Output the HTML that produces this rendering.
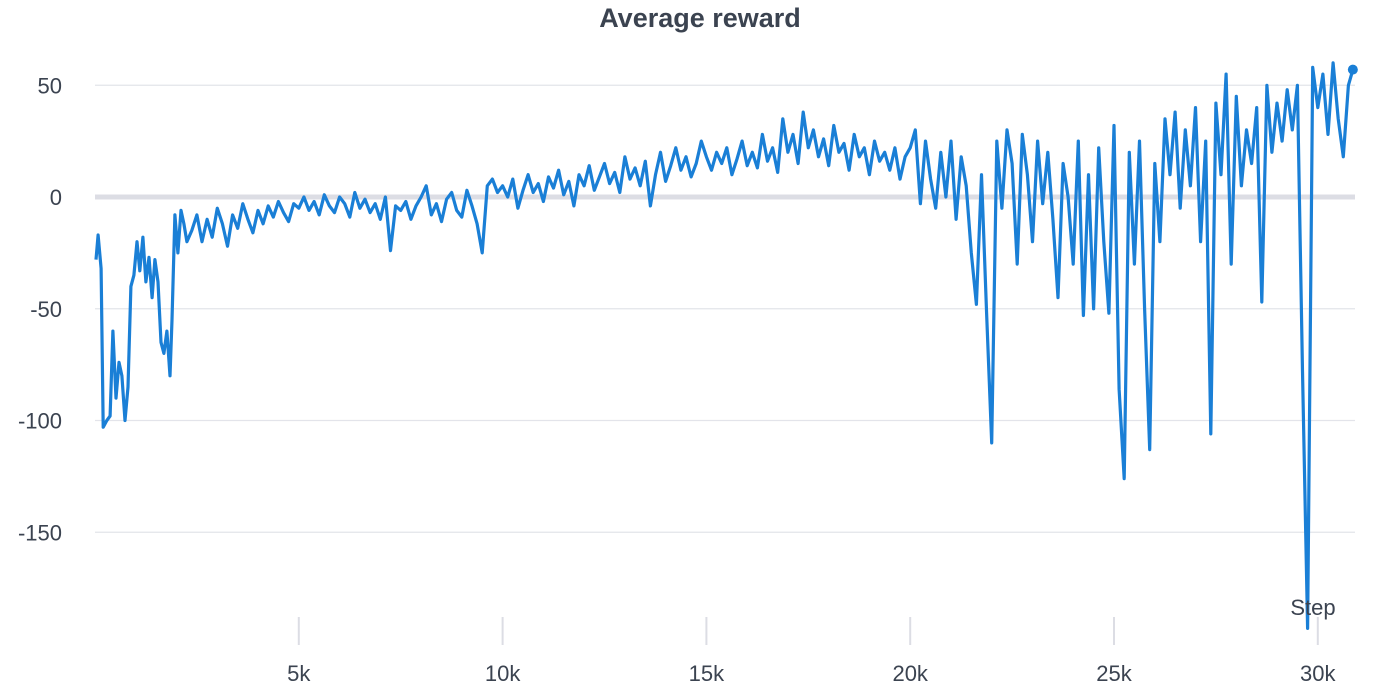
<!DOCTYPE html>
<html><head><meta charset="utf-8"><style>
body{margin:0;background:#fff;}
svg{display:block;font-family:"Liberation Sans",sans-serif;}
</style></head><body>
<svg id="chart" width="1400" height="700" viewBox="0 0 1400 700">
<text x="700" y="27" text-anchor="middle" font-size="27" font-weight="bold" fill="#3b4350">Average reward</text>
<g id="grid"></g><g id="xaxis"></g><g id="series"></g>
<text x="1313" y="615" text-anchor="middle" font-size="22" fill="#3b4350">Step</text>
</svg>
<script>
const yTicks=[50,0,-50,-100,-150];
const xTicks=[5000,10000,15000,20000,25000,30000];
const xTickLabels=["5k","10k","15k","20k","25k","30k"];
const steps=[25,75,150,200,290,370,440,515,590,660,735,810,880,955,1030,1100,1175,1250,1325,1400,1470,1545,1620,1690,1765,1840,1890,1960,2035,2110,2180,2255,
2375,2500,2625,2750,2875,3000,3125,3250,3375,3500,3625,3750,3875,4000,4125,4250,4375,4500,4625,4750,4875,
5000,5125,5250,5375,5500,5625,5750,5875,6000,6125,6250,6375,6500,6625,6750,6875,7000,7125,7250,7375,
7500,7625,7750,7875,8000,8125,8250,8375,8500,8625,8750,8875,9000,9125,9250,9375,9500,9625,9750,9875,
10000,10125,10250,10375,10500,10625,10750,10875,11000,11125,11250,11375,11500,11625,11750,11875,12000,12125,12250,12375,12500,12625,12750,12875,13000,13125,13250,13375,13500,13625,13750,13875,14000,14125,14250,14375,14500,14625,14750,14875,
15000,15125,15250,15375,15500,15625,15750,15875,16000,16125,16250,16375,16500,16625,16750,16875,17000,17125,17250,17375,17500,17625,17750,17875,18000,18125,18250,18375,18500,18625,18750,18875,19000,19125,19250,19375,19500,19625,19750,19875,
20000,20125,20250,20375,20500,20625,20750,20875,21000,21125,21250,21375,21500,21625,21750,21875,22000,22125,22250,22375,22500,22625,22750,22875,23000,23125,23250,23375,23500,23625,23750,23875,24000,24125,24250,24375,24500,24625,24750,
24875,25000,25125,25250,25375,25500,25625,25750,25875,26000,26125,26250,26375,26500,26625,26750,26875,27000,27125,27250,27375,27500,27625,27750,27875,28000,28125,28250,28375,28500,28625,28750,28875,29000,29125,29250,29375,29500,29625,29750,29875,30000,30125,30250,30375,30500,30625,30750,30860];
const rewards=[-28,-17,-32,-103,-100,-98,-60,-90,-74,-80,-100,-85,-40,-35,-20,-33,-18,-38,-27,-45,-28,-38,-65,-70,-60,-80,-55,-8,-25,-6,-12,-20,
-15,-8,-20,-10,-18,-5,-12,-22,-8,-14,-3,-10,-16,-6,-12,-4,-9,-2,-7,-11,-3,
-5,0,-6,-2,-8,1,-4,-7,0,-3,-9,2,-5,-1,-7,-3,-10,0,-24,-4,
-6,-2,-10,-4,0,5,-8,-3,-11,-1,2,-6,-9,3,-4,-12,-25,5,8,2,
5,0,8,-5,3,10,2,6,-2,9,4,12,1,7,-4,10,5,14,3,9,15,6,11,2,18,8,13,5,16,-4,10,20,7,14,22,12,18,9,15,25,
18,12,20,15,22,10,17,25,14,20,13,28,16,22,11,35,20,28,15,38,22,30,18,26,14,32,20,24,12,28,18,22,10,25,16,20,12,22,8,18,
22,30,-3,25,8,-5,20,0,25,-10,18,5,-25,-48,10,-52,-110,25,-5,30,15,-30,28,10,-20,25,-3,20,-10,-45,15,0,-30,25,-53,10,-50,22,-20,
-52,32,-86,-126,20,-30,25,-50,-113,15,-20,35,10,38,-5,30,5,40,-20,25,-106,42,10,55,-30,45,5,30,15,40,-47,50,20,42,25,48,30,50,-78,-193,58,40,55,28,60,35,18,50,57];
const L=95,R=1355;
function xs(s){return L+s/5000*203.8;}
function ys(v){return 197-v*2.235;}
const NS="http://www.w3.org/2000/svg";
function mk(t,a){const e=document.createElementNS(NS,t);for(const k in a)e.setAttribute(k,a[k]);return e;}
const grid=document.getElementById('grid');
yTicks.forEach(v=>{
 const ln=mk('line',{x1:L,x2:R,y1:ys(v),y2:ys(v),stroke:v===0?'#dcdde4':'#e3e4ea','stroke-width':v===0?5:1.3});
 
 
 grid.appendChild(ln);
 const t=mk('text',{x:62,y:ys(v)+8,'text-anchor':'end','font-size':22,fill:'#3b4350'});
 t.textContent=v;
 
 
 grid.appendChild(t);
});
const xa=document.getElementById('xaxis');
xTicks.forEach((s,i)=>{
 const ln=mk('line',{x1:xs(s),x2:xs(s),y1:617,y2:645,stroke:'#dcdde4','stroke-width':2});
 
 
 xa.appendChild(ln);
 const t=mk('text',{x:xs(s),y:681,'text-anchor':'middle','font-size':22,fill:'#3b4350'});
 t.textContent=xTickLabels[i];
 
 
 xa.appendChild(t);
});
const ser=document.getElementById('series');
const d=steps.map((s,i)=>(i?'L':'M')+xs(s).toFixed(1)+' '+ys(rewards[i]).toFixed(1)).join(' ');
const p=mk('path',{d:d,fill:'none',stroke:'#1a7fd6','stroke-width':3.2,'stroke-linejoin':'round'});


ser.appendChild(p);
const n=steps.length-1;
const c=mk('circle',{cx:xs(steps[n]),cy:ys(rewards[n]),r:5,fill:'#1a7fd6'});


ser.appendChild(c);
</script>
</body></html>
